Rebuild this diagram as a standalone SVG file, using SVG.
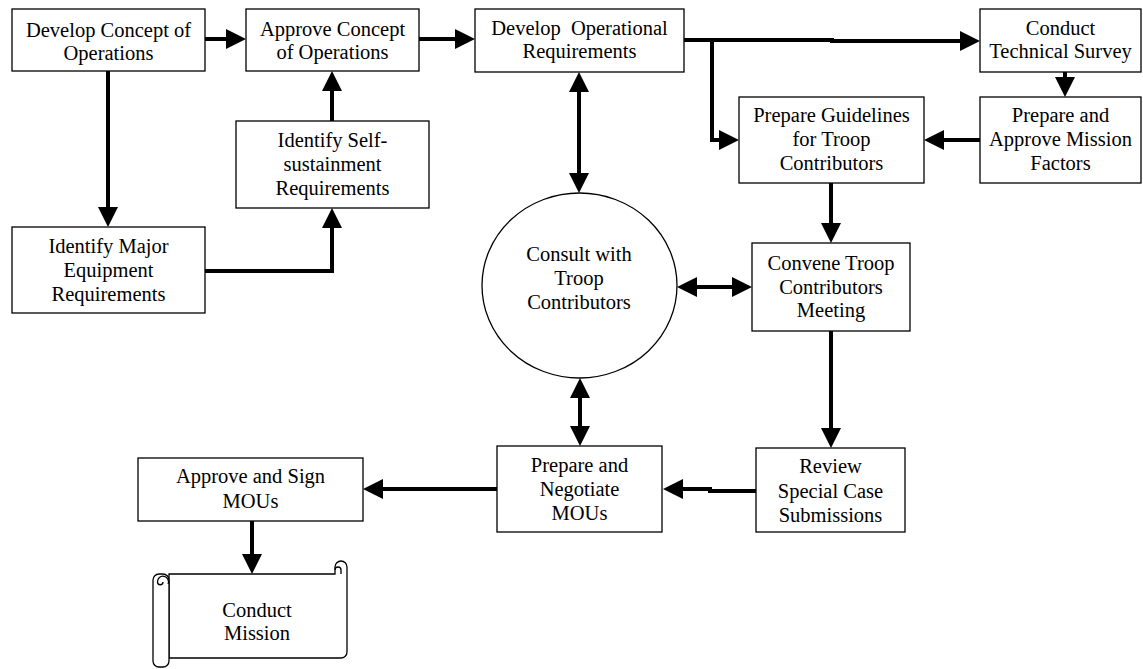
<svg xmlns="http://www.w3.org/2000/svg" width="1143" height="669" viewBox="0 0 1143 669">
<style>
.box{fill:#fff;stroke:#000;stroke-width:1.3}
.ln{fill:none;stroke:#000;stroke-width:1.3}
.t{font-family:"Liberation Serif","Times New Roman",serif;font-size:20.5px;fill:#000;text-anchor:middle}
.c{fill:none;stroke:#000;stroke-width:4}
</style>
<defs>
<marker id="ah" markerUnits="userSpaceOnUse" markerWidth="20" markerHeight="20" refX="2" refY="10" orient="auto-start-reverse">
<path d="M0,0 L20,10 L0,20 z" fill="#000"/>
</marker>
</defs>
<rect width="1143" height="669" fill="#fff"/>
<g id="connectors">
<path class="c" d="M205,39 H228" marker-end="url(#ah)"/>
<path class="c" d="M419,39 H457" marker-end="url(#ah)"/>
<path class="c" d="M684,40 H832 V41 H962" marker-end="url(#ah)"/>
<path class="c" d="M712,40 V140 H721" marker-end="url(#ah)"/>
<path class="c" d="M1065,72 V79" marker-end="url(#ah)"/>
<path class="c" d="M980,140 H942" marker-end="url(#ah)"/>
<path class="c" d="M831,183 V225" marker-end="url(#ah)"/>
<path class="c" d="M579,90 V175" marker-start="url(#ah)" marker-end="url(#ah)"/>
<path class="c" d="M108,71 V209" marker-end="url(#ah)"/>
<path class="c" d="M205,271 H332 V226" marker-end="url(#ah)"/>
<path class="c" d="M332,121 V89" marker-end="url(#ah)"/>
<path class="c" d="M695,287 H734" marker-start="url(#ah)" marker-end="url(#ah)"/>
<path class="c" d="M831,331 V430" marker-end="url(#ah)"/>
<path class="c" d="M580,396 V428" marker-start="url(#ah)" marker-end="url(#ah)"/>
<path class="c" d="M756,491 H710 V489 H681" marker-end="url(#ah)"/>
<path class="c" d="M497,489 H381" marker-end="url(#ah)"/>
<path class="c" d="M252,521 V556" marker-end="url(#ah)"/>
</g>
<g id="develop-concept">
<rect class="box" x="12" y="9" width="193" height="62"/>
<text class="t" x="108.5" y="37">Develop Concept of</text>
<text class="t" x="108.5" y="60">Operations</text>
</g>
<g id="approve-concept">
<rect class="box" x="246" y="9" width="173" height="62"/>
<text class="t" x="332.5" y="36">Approve Concept</text>
<text class="t" x="332.5" y="59">of Operations</text>
</g>
<g id="develop-requirements">
<rect class="box" x="475" y="9" width="209" height="63"/>
<text class="t" x="579.5" y="35" xml:space="preserve">Develop  Operational</text>
<text class="t" x="579.5" y="58">Requirements</text>
</g>
<g id="technical-survey">
<rect class="box" x="980" y="9" width="161" height="63"/>
<text class="t" x="1060.5" y="35">Conduct</text>
<text class="t" x="1060.5" y="58">Technical Survey</text>
</g>
<g id="mission-factors">
<rect class="box" x="980" y="97" width="161" height="86"/>
<text class="t" x="1060.5" y="122">Prepare and</text>
<text class="t" x="1060.5" y="146">Approve Mission</text>
<text class="t" x="1060.5" y="170">Factors</text>
</g>
<g id="guidelines">
<rect class="box" x="739" y="97" width="185" height="86"/>
<text class="t" x="831.5" y="122">Prepare Guidelines</text>
<text class="t" x="831.5" y="146">for Troop</text>
<text class="t" x="831.5" y="170">Contributors</text>
</g>
<g id="self-sustainment">
<rect class="box" x="236" y="121" width="193" height="87"/>
<text class="t" x="332.5" y="147">Identify Self-</text>
<text class="t" x="332.5" y="171">sustainment</text>
<text class="t" x="332.5" y="195">Requirements</text>
</g>
<g id="major-equipment">
<rect class="box" x="12" y="227" width="193" height="86"/>
<text class="t" x="108.5" y="253">Identify Major</text>
<text class="t" x="108.5" y="277">Equipment</text>
<text class="t" x="108.5" y="301">Requirements</text>
</g>
<g id="consult">
<ellipse class="box" cx="579.5" cy="285.5" rx="97.5" ry="92.5"/>
<text class="t" x="579" y="261">Consult with</text>
<text class="t" x="579" y="285">Troop</text>
<text class="t" x="579" y="309">Contributors</text>
</g>
<g id="convene">
<rect class="box" x="752" y="243" width="158" height="88"/>
<text class="t" x="831" y="270">Convene Troop</text>
<text class="t" x="831" y="294">Contributors</text>
<text class="t" x="831" y="317">Meeting</text>
</g>
<g id="review">
<rect class="box" x="756" y="448" width="149" height="84"/>
<text class="t" x="830.5" y="473">Review</text>
<text class="t" x="830.5" y="498">Special Case</text>
<text class="t" x="830.5" y="522">Submissions</text>
</g>
<g id="negotiate">
<rect class="box" x="497" y="446" width="165" height="86"/>
<text class="t" x="579.5" y="472">Prepare and</text>
<text class="t" x="579.5" y="496">Negotiate</text>
<text class="t" x="579.5" y="520">MOUs</text>
</g>
<g id="approve-sign">
<rect class="box" x="138" y="458" width="225" height="63"/>
<text class="t" x="250.5" y="483">Approve and Sign</text>
<text class="t" x="250.5" y="508">MOUs</text>
</g>
<g id="conduct-mission">
<path class="box" d="M169,574 H335 V567 A6,6 0 1 1 347,567 V652 A6,6 0 0 1 341,658 H169 Z"/>
<path class="ln" d="M341,574 V570 A3,3 0 0 0 335,570"/>
<rect class="box" x="153" y="574" width="16" height="93" rx="6"/>
<path class="ln" d="M168,584 A5.5,5.5 0 1 0 157.5,582 A2.75,2.75 0 0 0 163,582"/>
<text class="t" x="257" y="617">Conduct</text>
<text class="t" x="257" y="640">Mission</text>
</g>
</svg>
